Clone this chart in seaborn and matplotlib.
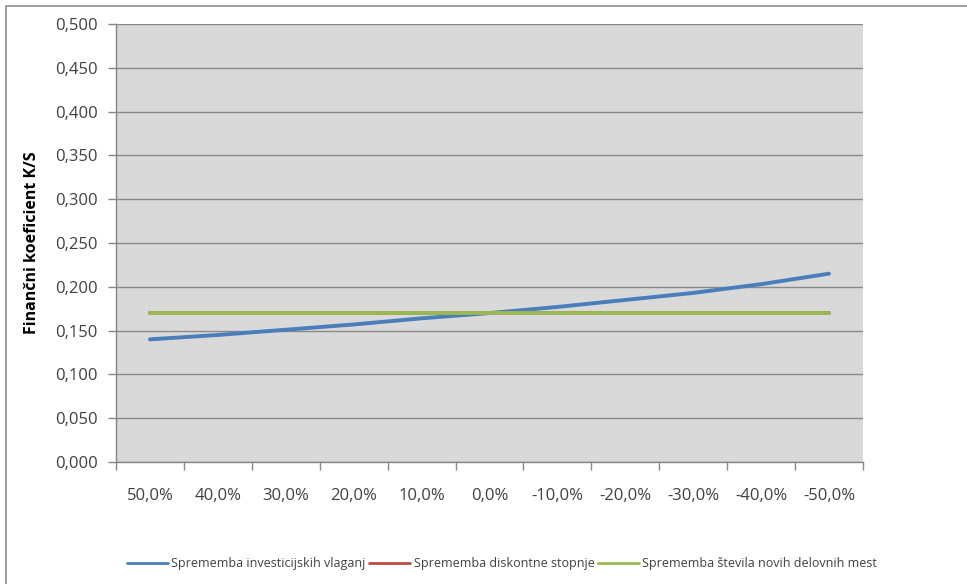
import matplotlib
matplotlib.use("Agg")
import matplotlib.pyplot as plt
from matplotlib.patches import Rectangle
import seaborn as sns
import pandas as pd
import numpy as np

# Sensitivity analysis of the financial B/C ratio
categories = ["50,0%", "40,0%", "30,0%", "20,0%", "10,0%", "0,0%",
              "-10,0%", "-20,0%", "-30,0%", "-40,0%", "-50,0%"]
investicije = [0.140, 0.145, 0.151, 0.157, 0.164, 0.170,
               0.177, 0.185, 0.193, 0.203, 0.215]
diskontna = [0.170] * 11
delovna_mesta = [0.170] * 11

series_names = ["Sprememba investicijskih vlaganj",
                "Sprememba diskontne stopnje",
                "Sprememba števila novih delovnih mest"]
series_colors = ["#4a7ebb", "#be4b48", "#98b954"]

yticks = np.arange(0, 0.5001, 0.05)

sns.set_theme(style="white")
plt.rcParams["font.family"] = ["Open Sans", "DejaVu Sans"]

df = pd.DataFrame({
    "pos": list(range(len(categories))) * 3,
    "value": investicije + diskontna + delovna_mesta,
    "serija": [series_names[0]] * 11 + [series_names[1]] * 11 + [series_names[2]] * 11,
})

fig = plt.figure(figsize=(9.67, 5.84), dpi=100)
ax = fig.add_axes([116 / 967, 122 / 584, 747 / 967, 438 / 584])
ax.set_facecolor("#d9d9d9")

# chart-area frame
fig.patches.append(Rectangle((6 / 967, -0.1), 1.2, (578 / 584) + 0.1,
                             transform=fig.transFigure, fill=False,
                             edgecolor="#8c8c8c", linewidth=1.2, zorder=0))

sns.lineplot(data=df, x="pos", y="value", hue="serija",
             hue_order=series_names, palette=series_colors,
             linewidth=2.8, ax=ax, legend=False, zorder=3)

ax.set_xlim(-0.5, len(categories) - 0.5)
ax.set_ylim(0, 0.5)

# tick marks between categories, labels at category centers
ax.set_xticks(np.arange(-0.5, len(categories), 1.0))
ax.set_xticklabels([])
ax.set_xticks(range(len(categories)), minor=True)
ax.set_xticklabels(categories, minor=True)
ax.tick_params(axis="x", which="major", length=6, width=1, color="#868686",
               direction="out", bottom=True)
ax.tick_params(axis="x", which="minor", length=0, pad=19,
               labelsize=12, labelcolor="#404040")

ax.set_yticks(yticks)
ax.set_yticklabels([f"{v:.3f}".replace(".", ",") for v in yticks])
ax.tick_params(axis="y", length=6, width=1, color="#868686", direction="out",
               left=True, labelsize=12, labelcolor="#404040", pad=7)

ax.grid(axis="y", color="#8a8a8a", linewidth=1.0)
ax.grid(axis="x", visible=False)
ax.set_axisbelow(True)

for side in ["top", "right"]:
    ax.spines[side].set_visible(False)
for side in ["left", "bottom"]:
    ax.spines[side].set_color("#868686")
    ax.spines[side].set_linewidth(1.0)

ax.set_xlabel("")
ax.set_ylabel("Finančni koeficient K/S", fontsize=11.5, fontweight="bold",
              color="#000000", labelpad=11)

handles = [plt.Line2D([], [], color=c, linewidth=2) for c in series_colors]
fig.legend(handles, series_names, loc="center", bbox_to_anchor=(502 / 967, 1 - 564 / 584),
           ncol=3, frameon=False, fontsize=9, handlelength=3.3,
           handletextpad=0.25, columnspacing=0.3, labelcolor="#404040")

fig.savefig("out.png", dpi=100)
